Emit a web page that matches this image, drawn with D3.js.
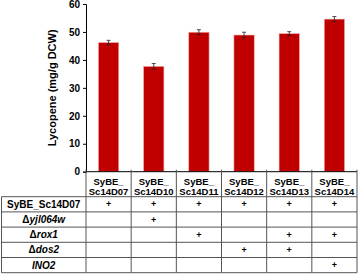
<!DOCTYPE html>
<html>
<head>
<meta charset="utf-8">
<script src="https://cdn.jsdelivr.net/npm/d3@7"></script>
<style>
  body { margin: 0; background: #fff; }
  text { font-family: "Liberation Sans", Arial, sans-serif; font-weight: bold; fill: #000; }
</style>
</head>
<body>
<script>
const width = 359;
const height = 274;

// data
const strainPrefix = "SyBE_";
const strains = ["Sc14D07", "Sc14D10", "Sc14D11", "Sc14D12", "Sc14D13", "Sc14D14"];
const lycopene = [46.2, 37.7, 49.9, 48.9, 49.4, 54.6];
const errors = [0.8, 1.0, 0.9, 1.0, 0.7, 0.9];
const yTicks = [0, 10, 20, 30, 40, 50, 60];

// table rows: prefix (upright) + gene (italic)
const rowPrefix = ["SyBE_Sc14D07", "\u0394", "\u0394", "\u0394", ""];
const rowGene = ["", "yjl064w", "rox1", "dos2", "INO2"];
const rowMarks = [
  [1, 1, 1, 1, 1, 1],
  [0, 1, 0, 0, 0, 0],
  [0, 0, 1, 0, 1, 1],
  [0, 0, 0, 1, 1, 0],
  [0, 0, 0, 0, 0, 1]
];

const plotLeft = 86, plotRight = 357, plotTop = 4, plotBottom = 171.7;
const headerBottom = 196.7, rowH = 15.2, tableLeft = 1.5;
const lineColor = "#555";

const svg = d3.select("body").append("svg")
  .attr("width", width)
  .attr("height", height);

const x = d3.scaleBand()
  .domain(strains)
  .range([plotLeft, plotRight])
  .padding(0);

const y = d3.scaleLinear()
  .domain([0, 60])
  .range([plotBottom, plotTop]);

const barW = x.bandwidth() * 0.45;

// bars
svg.append("g").selectAll("rect")
  .data(strains)
  .join("rect")
  .attr("x", d => x(d) + (x.bandwidth() - barW) / 2)
  .attr("y", (d, i) => y(lycopene[i]))
  .attr("width", barW)
  .attr("height", (d, i) => y(0) - y(lycopene[i]))
  .attr("fill", "#c00000")
  .attr("stroke", "#f0b0b0")
  .attr("stroke-width", 0.6);

// error bars
const eg = svg.append("g").attr("stroke", "#222").attr("stroke-width", 0.8);
strains.forEach((s, i) => {
  const cx = x(s) + x.bandwidth() / 2;
  const y1 = y(lycopene[i] + errors[i]), y2 = y(lycopene[i] - errors[i]);
  eg.append("line").attr("x1", cx).attr("x2", cx).attr("y1", y1).attr("y2", y2);
  eg.append("line").attr("x1", cx - 2).attr("x2", cx + 2).attr("y1", y1).attr("y2", y1);
  eg.append("line").attr("x1", cx - 2).attr("x2", cx + 2).attr("y1", y2).attr("y2", y2);
});

// y axis
const yAxis = svg.append("g")
  .attr("transform", `translate(${plotLeft},0)`)
  .call(d3.axisLeft(y).tickValues(yTicks).tickSize(3).tickPadding(3));
yAxis.select(".domain").attr("stroke", "#000");
yAxis.selectAll(".tick line").attr("stroke", "#000");
yAxis.selectAll("text")
  .style("font-size", "10px")
  .style("font-weight", "bold")
  .attr("font-family", null);

svg.append("text")
  .attr("transform", `translate(52,${(plotTop + plotBottom) / 2}) rotate(-90)`)
  .attr("text-anchor", "middle")
  .attr("dy", "0.35em")
  .style("font-size", "11px")
  .text("Lycopene (mg/g DCW)");

// x axis line with ticks at column boundaries
const bounds = strains.map(s => x(s)).concat([x.range()[1]]);
const tg = svg.append("g").attr("stroke", lineColor).attr("stroke-width", 1);
tg.append("line")
  .attr("x1", plotLeft).attr("x2", plotRight)
  .attr("y1", plotBottom).attr("y2", plotBottom)
  .attr("stroke", "#000");
bounds.forEach(b => {
  tg.append("line")
    .attr("x1", b).attr("x2", b)
    .attr("y1", plotBottom - 2).attr("y2", height - 1.3);
});

// header texts
strains.forEach(s => {
  const cx = x(s) + x.bandwidth() / 2;
  const t = svg.append("text")
    .attr("text-anchor", "middle")
    .style("font-size", "9.5px");
  t.append("tspan").attr("x", cx).attr("y", 184.5).text(strainPrefix);
  t.append("tspan").attr("x", cx).attr("y", 195).text(s);
});

// table horizontal lines
const rowY = d3.range(rowPrefix.length + 1).map(i => headerBottom + i * rowH);
rowY.forEach(ry => {
  tg.append("line")
    .attr("x1", tableLeft).attr("x2", plotRight)
    .attr("y1", ry).attr("y2", ry);
});
tg.append("line")
  .attr("x1", tableLeft).attr("x2", tableLeft)
  .attr("y1", headerBottom).attr("y2", rowY[rowY.length - 1]);

// row labels
rowPrefix.forEach((p, i) => {
  const t = svg.append("text")
    .attr("x", (tableLeft + plotLeft) / 2)
    .attr("y", rowY[i] + rowH / 2)
    .attr("dy", "0.35em")
    .attr("text-anchor", "middle")
    .style("font-size", "10px");
  if (p) t.append("tspan").text(p);
  if (rowGene[i]) t.append("tspan").style("font-style", "italic").text(rowGene[i]);
});

// plus marks
rowMarks.forEach((row, i) => {
  row.forEach((m, j) => {
    if (!m) return;
    svg.append("text")
      .attr("x", x(strains[j]) + x.bandwidth() / 2)
      .attr("y", rowY[i] + rowH / 2)
      .attr("dy", "0.35em")
      .attr("text-anchor", "middle")
      .style("font-size", "9px")
      .text("+");
  });
});
</script>
</body>
</html>
